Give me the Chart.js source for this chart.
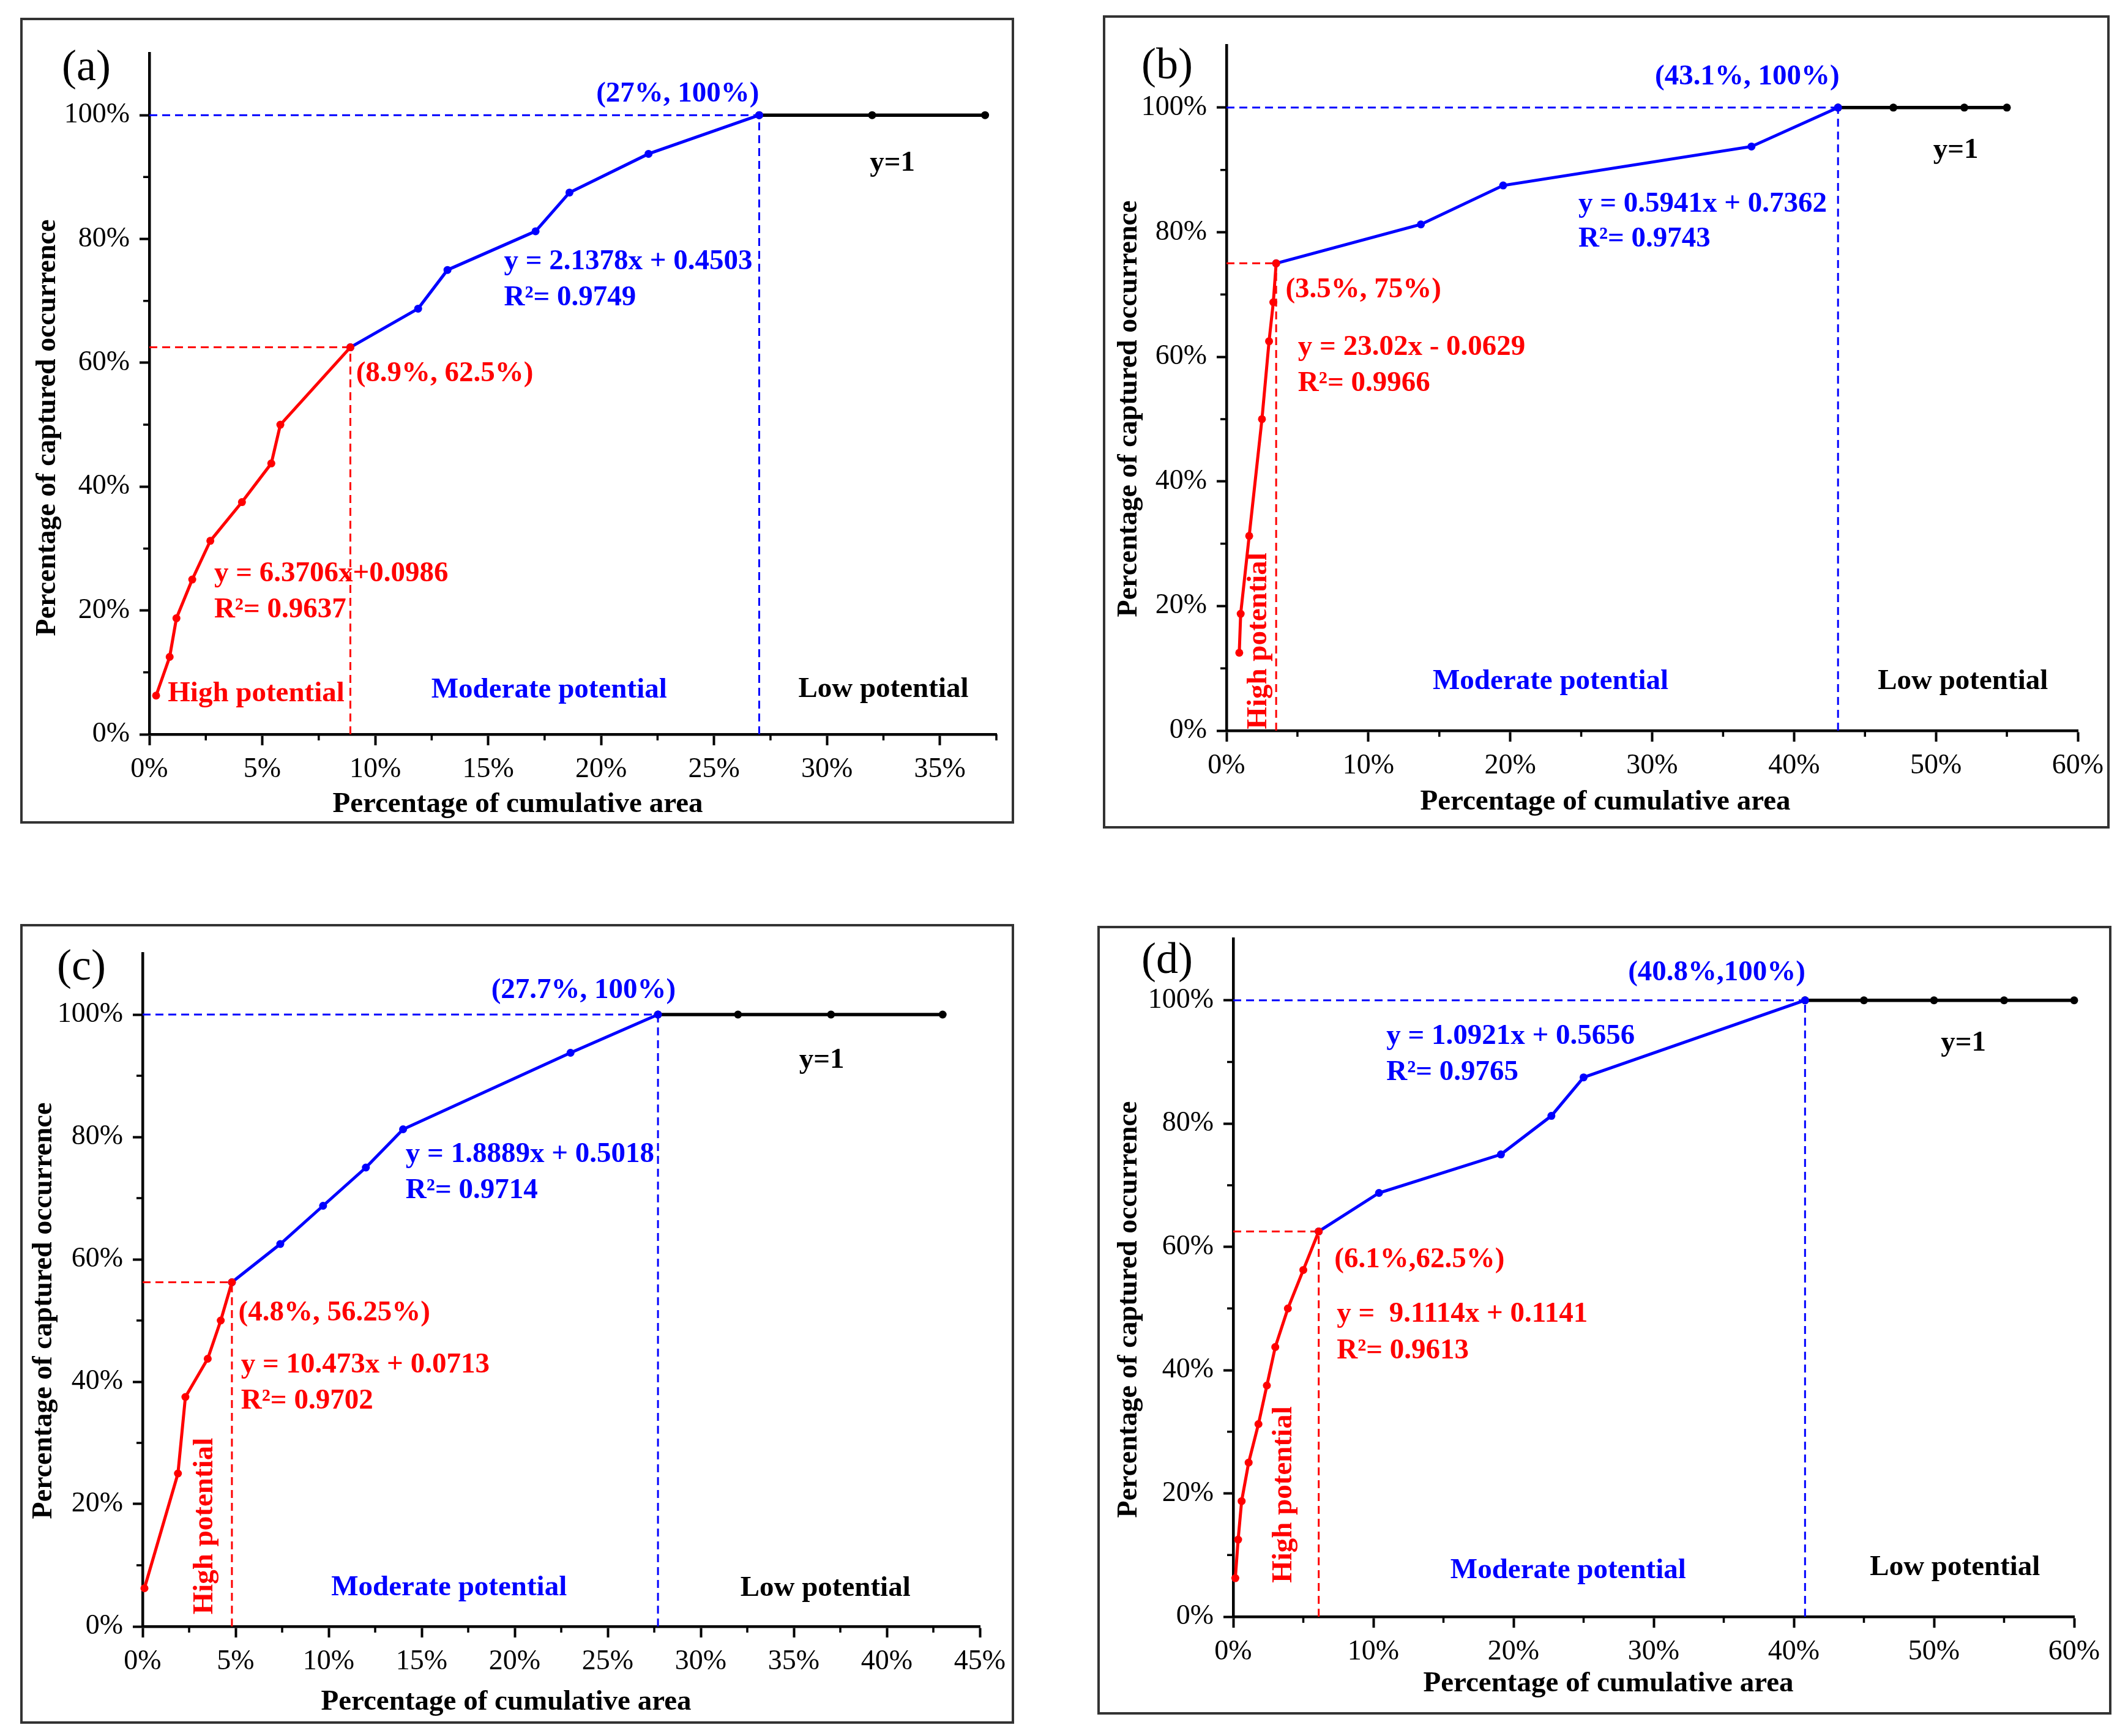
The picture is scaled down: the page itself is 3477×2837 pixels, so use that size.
<!DOCTYPE html>
<html lang="en">
<head>
<meta charset="UTF-8">
<title>Cumulative area vs captured occurrence</title>
<script src="https://cdn.jsdelivr.net/npm/chart.js"></script>
<style>
    html, body { margin: 0; padding: 0; background: #fff; }
    body { width: 3477px; height: 2837px; position: relative; overflow: hidden; }
    canvas { position: absolute; }
</style>
</head>
<body>
<canvas id="pa"></canvas>
<canvas id="pb"></canvas>
<canvas id="pc"></canvas>
<canvas id="pd"></canvas>
<script>
// ---- data (percent values) ----
// (a)
const aHighX = [0.3, 0.9, 1.2, 1.9, 2.7, 4.1, 5.4, 5.8, 8.9];
const aHighY = [6.25, 12.5, 18.75, 25, 31.25, 37.5, 43.75, 50, 62.5];
const aModX = [8.9, 11.9, 13.2, 17.1, 18.6, 22.1, 27];
const aModY = [62.5, 68.75, 75, 81.25, 87.5, 93.75, 100];
const aLowX = [27, 32, 37];
const aLowY = [100, 100, 100];

// (b)
const bHighX = [0.9, 1.0, 1.6, 2.5, 3.0, 3.3, 3.5];
const bHighY = [12.5, 18.75, 31.25, 50, 62.5, 68.75, 75];
const bModX = [3.5, 13.7, 19.5, 37.0, 43.1];
const bModY = [75, 81.25, 87.5, 93.75, 100];
const bLowX = [43.1, 47, 52, 55];
const bLowY = [100, 100, 100, 100];

// (c)
const cHighX = [0.1, 1.9, 2.3, 3.5, 4.2, 4.8];
const cHighY = [6.25, 25, 37.5, 43.75, 50, 56.25];
const cModX = [4.8, 7.4, 9.7, 12.0, 14.0, 23.0, 27.7];
const cModY = [56.25, 62.5, 68.75, 75, 81.25, 93.75, 100];
const cLowX = [27.7, 32, 37, 43];
const cLowY = [100, 100, 100, 100];

// (d)
const dHighX = [0.15, 0.35, 0.6, 1.1, 1.8, 2.4, 3.0, 3.9, 5.0, 6.1];
const dHighY = [6.25, 12.5, 18.75, 25, 31.25, 37.5, 43.75, 50, 56.25, 62.5];
const dModX = [6.1, 10.4, 19.1, 22.7, 25.0, 40.8];
const dModY = [62.5, 68.75, 75, 81.25, 87.5, 100];
const dLowX = [40.8, 45, 50, 55, 60];
const dLowY = [100, 100, 100, 100, 100];

// axis ranges and labelled ticks
const xMaxes = { a: 37.5, b: 60, c: 45, d: 60 };
const xSteps = { a: 5, b: 10, c: 5, d: 10 };
const xLastTick = { a: 35, b: 60, c: 45, d: 60 };
const yMax = 110;
const yStep = 20;
const yLastTick = 100;

const xTitle = 'Percentage of cumulative area';
const yTitle = 'Percentage of captured occurrence';

const RED = '#ff0000';
const BLUE = '#0000ff';
const BLACK = '#000000';
const SERIF = '"Liberation Serif", "Times New Roman", serif';

// annotations: [text, x, y, colour, align, rotated]
const aNotes = [
    ['(27%, 100%)', 27, 103.4, BLUE, 'right'],
    ['y=1', 32.9, 92.2, BLACK, 'center'],
    ['y = 2.1378x + 0.4503', 15.7, 76.3, BLUE, 'left'],
    ['R\u00b2= 0.9749', 15.7, 70.5, BLUE, 'left'],
    ['(8.9%, 62.5%)', 9.15, 58.2, RED, 'left'],
    ['y = 6.3706x+0.0986', 2.87, 25.9, RED, 'left'],
    ['R\u00b2= 0.9637', 2.87, 20.1, RED, 'left'],
    ['High potential', 0.82, 6.5, RED, 'left'],
    ['Moderate potential', 17.7, 7.15, BLUE, 'center'],
    ['Low potential', 32.5, 7.2, BLACK, 'center']
];
const bNotes = [
    ['(43.1%, 100%)', 36.7, 104.9, BLUE, 'center'],
    ['y=1', 51.4, 93.1, BLACK, 'center'],
    ['y = 0.5941x + 0.7362', 24.8, 84.5, BLUE, 'left'],
    ['R\u00b2= 0.9743', 24.8, 78.9, BLUE, 'left'],
    ['(3.5%, 75%)', 4.16, 70.7, RED, 'left'],
    ['y = 23.02x - 0.0629', 5.04, 61.5, RED, 'left'],
    ['R\u00b2= 0.9966', 5.04, 55.7, RED, 'left'],
    ['High potential', 2.29, 14.4, RED, 'center', true],
    ['Moderate potential', 22.84, 7.86, BLUE, 'center'],
    ['Low potential', 51.9, 7.9, BLACK, 'center']
];
const cNotes = [
    ['(27.7%, 100%)', 23.7, 103.9, BLUE, 'center'],
    ['y=1', 36.5, 92.5, BLACK, 'center'],
    ['y = 1.8889x + 0.5018', 14.14, 77.1, BLUE, 'left'],
    ['R\u00b2= 0.9714', 14.14, 71.2, BLUE, 'left'],
    ['(4.8%, 56.25%)', 5.15, 51.2, RED, 'left'],
    ['y = 10.473x + 0.0713', 5.29, 42.7, RED, 'left'],
    ['R\u00b2= 0.9702', 5.29, 36.8, RED, 'left'],
    ['High potential', 3.36, 16.4, RED, 'center', true],
    ['Moderate potential', 16.47, 6.35, BLUE, 'center'],
    ['Low potential', 36.7, 6.25, BLACK, 'center']
];
const dNotes = [
    ['(40.8%,100%)', 34.5, 104.5, BLUE, 'center'],
    ['y = 1.0921x + 0.5656', 10.93, 94.1, BLUE, 'left'],
    ['R\u00b2= 0.9765', 10.93, 88.3, BLUE, 'left'],
    ['(6.1%,62.5%)', 7.22, 57.9, RED, 'left'],
    ['y =  9.1114x + 0.1141', 7.39, 49.1, RED, 'left'],
    ['R\u00b2= 0.9613', 7.39, 43.1, RED, 'left'],
    ['High potential', 3.6, 19.8, RED, 'center', true],
    ['Moderate potential', 23.9, 7.5, BLUE, 'center'],
    ['y=1', 52.1, 93.0, BLACK, 'center'],
    ['Low potential', 51.5, 8.0, BLACK, 'center']
];

// layout of each framed panel on the page
const panels = [
    { id: 'pa', tag: '(a)', key: 'a', box: [33, 29, 1624, 1317], pad: { left: 211, top: 58, right: 29, bottom: 146 },
      tagPos: [108, 83], xtPos: [813, 1286], ytPos: [45, 670],
      high: [aHighX, aHighY], mod: [aModX, aModY], low: [aLowX, aLowY], notes: aNotes },
    { id: 'pb', tag: '(b)', key: 'b', box: [1802, 25, 1645, 1329], pad: { left: 202, top: 49, right: 52, bottom: 160 },
      tagPos: [105, 84], xtPos: [821, 1286], ytPos: [43, 643],
      high: [bHighX, bHighY], mod: [bModX, bModY], low: [bLowX, bLowY], notes: bNotes },
    { id: 'pc', tag: '(c)', key: 'c', box: [33, 1510, 1624, 1307], pad: { left: 200, top: 48, right: 56, bottom: 159 },
      tagPos: [100, 72], xtPos: [794, 1272], ytPos: [39, 632],
      high: [cHighX, cHighY], mod: [cModX, cModY], low: [cLowX, cLowY], notes: cNotes },
    { id: 'pd', tag: '(d)', key: 'd', box: [1793, 1513, 1657, 1289], pad: { left: 222, top: 21, right: 61, bottom: 160 },
      tagPos: [114, 58], xtPos: [835, 1239], ytPos: [52, 627],
      high: [dHighX, dHighY], mod: [dModX, dModY], low: [dLowX, dLowY], notes: dNotes }
];

function pts(xs, ys) {
    return xs.map((x, i) => ({ x: x, y: ys[i] }));
}

function tickList(step, last) {
    const out = [];
    for (let v = 0; v <= last + 1e-6; v += step) out.push({ value: v });
    return out;
}

function solid(xy, color, width) {
    return {
        data: pts(xy[0], xy[1]),
        showLine: true,
        borderColor: color,
        borderWidth: width,
        pointRadius: 6.5,
        pointBackgroundColor: color,
        pointBorderWidth: 0,
        clip: false
    };
}

function dashed(points, color) {
    return {
        data: points,
        showLine: true,
        borderColor: color,
        borderWidth: 3,
        borderDash: [13, 8],
        pointRadius: 0,
        clip: false
    };
}

function makePanel(p) {
    const cv = document.getElementById(p.id);
    cv.width = p.box[2];
    cv.height = p.box[3];
    cv.style.left = p.box[0] + 'px';
    cv.style.top = p.box[1] + 'px';
    cv.style.width = p.box[2] + 'px';
    cv.style.height = p.box[3] + 'px';

    const hx = p.high[0][p.high[0].length - 1];
    const hy = p.high[1][p.high[1].length - 1];
    const mx = p.mod[0][p.mod[0].length - 1];
    const my = p.mod[1][p.mod[1].length - 1];
    const xStep = xSteps[p.key];
    const xMax = xMaxes[p.key];

    // frame, texts and minor ticks
    const decor = {
        id: 'decor' + p.key,
        afterDraw(chart) {
            const ctx = chart.ctx;
            const xs = chart.scales.x, ys = chart.scales.y;
            ctx.save();
            ctx.strokeStyle = '#333';
            ctx.lineWidth = 4;
            ctx.strokeRect(2, 2, chart.width - 4, chart.height - 4);

            // minor ticks
            ctx.strokeStyle = '#000';
            ctx.lineWidth = 3.5;
            ctx.beginPath();
            for (let v = xStep / 2; v <= xMax + 1e-6; v += xStep) {
                const px = xs.getPixelForValue(v);
                ctx.moveTo(px, ys.bottom);
                ctx.lineTo(px, ys.bottom + 10);
            }
            for (let v = yStep / 2; v < yLastTick; v += yStep) {
                const py = ys.getPixelForValue(v);
                ctx.moveTo(xs.left, py);
                ctx.lineTo(xs.left - 10, py);
            }
            ctx.stroke();

            ctx.textBaseline = 'middle';
            ctx.fillStyle = '#000';
            ctx.textAlign = 'center';
            ctx.font = '72px ' + SERIF;
            ctx.fillText(p.tag, p.tagPos[0], p.tagPos[1]);

            ctx.font = 'bold 47px ' + SERIF;
            ctx.fillText(xTitle, p.xtPos[0], p.xtPos[1]);
            ctx.save();
            ctx.translate(p.ytPos[0], p.ytPos[1]);
            ctx.rotate(-Math.PI / 2);
            ctx.font = 'bold 46px ' + SERIF;
            ctx.fillText(yTitle, 0, 0);
            ctx.restore();

            ctx.font = 'bold 47px ' + SERIF;
            p.notes.forEach(n => {
                const px = xs.getPixelForValue(n[1]);
                const py = ys.getPixelForValue(n[2]);
                ctx.fillStyle = n[3];
                ctx.textAlign = n[4];
                if (n[5]) {
                    ctx.save();
                    ctx.translate(px, py);
                    ctx.rotate(-Math.PI / 2);
                    ctx.fillText(n[0], 0, 0);
                    ctx.restore();
                } else {
                    ctx.fillText(n[0], px, py);
                }
            });
            ctx.restore();
        }
    };

    new Chart(cv, {
        type: 'scatter',
        data: {
            datasets: [
                solid(p.high, RED, 5),
                solid(p.mod, BLUE, 5),
                solid(p.low, BLACK, 5.5),
                dashed([{ x: 0, y: hy }, { x: hx, y: hy }], RED),
                dashed([{ x: hx, y: 0 }, { x: hx, y: hy }], RED),
                dashed([{ x: 0, y: my }, { x: mx, y: my }], BLUE),
                dashed([{ x: mx, y: 0 }, { x: mx, y: my }], BLUE)
            ]
        },
        options: {
            responsive: false,
            animation: false,
            devicePixelRatio: 1,
            layout: { padding: { top: p.pad.top, right: p.pad.right, left: 0, bottom: 0 } },
            plugins: {
                legend: { display: false },
                tooltip: { enabled: false }
            },
            scales: {
                x: {
                    type: 'linear',
                    min: 0,
                    max: xMax,
                    ticks: {
                        stepSize: xStep,
                        autoSkip: false,
                        maxRotation: 0,
                        padding: 12,
                        color: '#000',
                        font: { family: SERIF, size: 46 },
                        callback: v => v + '%'
                    },
                    grid: { drawOnChartArea: false, drawTicks: true, tickLength: 18, tickWidth: 4, tickColor: '#000' },
                    border: { display: true, color: '#000', width: 4.5 },
                    afterBuildTicks: s => {
                        s.ticks = tickList(xStep, xLastTick[p.key]);
                    },
                    afterFit: s => {
                        s.height = p.pad.bottom;
                        s.paddingLeft = 0;
                        s.paddingRight = 0;
                    }
                },
                y: {
                    type: 'linear',
                    min: 0,
                    max: yMax,
                    ticks: {
                        stepSize: yStep,
                        padding: 16,
                        color: '#000',
                        font: { family: SERIF, size: 46 },
                        callback: v => v + '%'
                    },
                    grid: { drawOnChartArea: false, drawTicks: true, tickLength: 16, tickWidth: 4, tickColor: '#000' },
                    border: { display: true, color: '#000', width: 4.5 },
                    afterBuildTicks: s => {
                        s.ticks = tickList(yStep, yLastTick);
                    },
                    afterFit: s => {
                        s.width = p.pad.left;
                        s.paddingTop = 0;
                        s.paddingBottom = 0;
                    }
                }
            }
        },
        plugins: [decor]
    });
}

panels.forEach(makePanel);
</script>
</body>
</html>
